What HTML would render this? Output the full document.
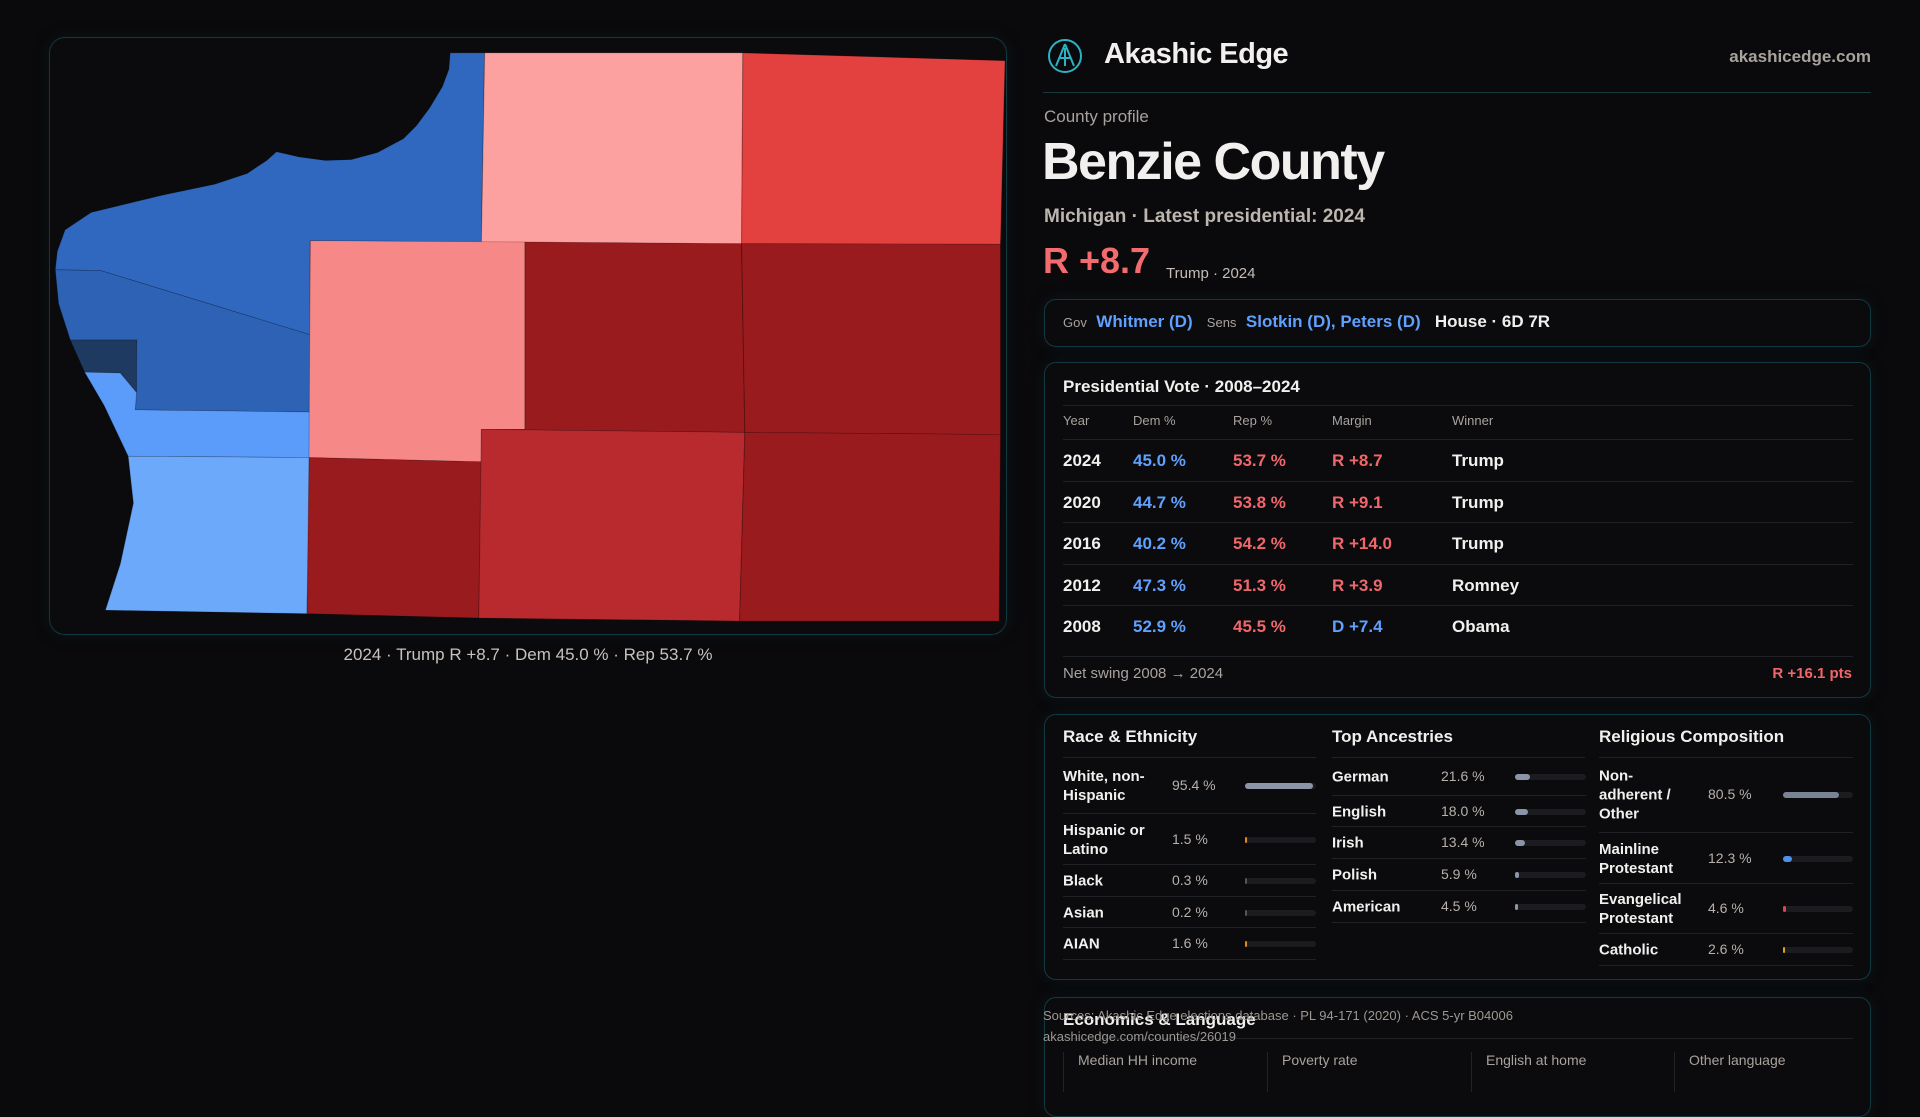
<!DOCTYPE html>
<html><head><meta charset="utf-8"><style>
*{margin:0;padding:0;box-sizing:border-box}
body{width:1920px;height:1080px;background:#0a090b;font-family:"Liberation Sans",sans-serif;color:#f2f0ee;position:relative;overflow:hidden}
.a{position:absolute;white-space:nowrap}
.panel{position:absolute;border:1px solid #113a40;border-radius:16px;background:#0b0a0c;box-shadow:0 0 18px rgba(20,80,90,.18)}
.hl{position:absolute;height:1px;background:#1f2124}
.mut{color:#a9a39e}
.blue{color:#5ea1ff}.red{color:#f0676b}
.lbl{font-size:15px;font-weight:bold;line-height:19px;color:#f2f0ee}
.val{font-size:14px;color:#b7b1ab}
.track{position:absolute;height:6px;border-radius:3px;background:#1b1c1f}
.fill{position:absolute;left:0;top:0;height:6px;border-radius:3px}
</style></head><body>

<div class="panel" style="left:49px;top:37px;width:958px;height:598px"></div>
<svg class="a" style="left:0;top:0" width="1020" height="680" viewBox="0 0 1568 1568" preserveAspectRatio="none">
 <g stroke="#000" stroke-opacity=".25" stroke-width="1.5">
 <polygon fill="#3068bf" points="85,622 88,580 100,530 140,490 250,450 330,425 380,400 410,370 425,350 460,362 500,370 540,368 580,352 620,320 640,290 660,250 680,200 690,160 692,122 745,122 740,558 477,555 477,772 155,624"/>
 <polygon fill="#2d62b5" points="85,622 155,624 477,772 477,950 208,945 210,784 108,784 90,700"/>
 <polygon fill="#1f3a60" points="108,784 210,784 210,905 185,860 130,858"/>
 <polygon fill="#5b9bfa" points="130,858 185,860 210,905 208,945 477,950 477,1055 197,1052 160,935"/>
 <polygon fill="#6ca9fa" points="197,1052 477,1055 472,1415 162,1407 185,1300 205,1160"/>
 <polygon fill="#fca0a0" points="745,122 1142,122 1140,562 740,558"/>
 <polygon fill="#e34040" points="1142,122 1545,140 1538,563 1140,562"/>
 <polygon fill="#f78888" points="477,555 807,558 807,990 740,990 740,1065 475,1055"/>
 <polygon fill="#991b1e" points="807,558 1140,562 1145,997 740,990 807,990"/>
 <polygon fill="#991b1e" points="1140,562 1538,563 1538,1002 1145,997"/>
 <polygon fill="#991b1e" points="475,1055 740,1065 736,1425 472,1415"/>
 <polygon fill="#b82a2e" points="740,990 1145,997 1137,1432 736,1425"/>
 <polygon fill="#991b1e" points="1145,997 1538,1002 1536,1432 1137,1432"/>
 </g>
</svg>
<div class="a mut" style="left:0;width:1056px;text-align:center;top:645px;font-size:17px;color:#c9c2bc">2024 · Trump R +8.7 · Dem 45.0 % · Rep 53.7 %</div>

<svg class="a" style="left:1047px;top:38px" width="36" height="36" viewBox="0 0 36 36"><circle cx="18" cy="18" r="16" fill="none" stroke="#2bb3c4" stroke-width="2"/><path d="M18 6 L9 28 M18 6 L27 28 M12 20 H24 M18 10 V28" stroke="#2bb3c4" stroke-width="2" fill="none"/></svg>
<div class="a" style="left:1104px;top:38px;font-size:29px;font-weight:bold;letter-spacing:-.5px">Akashic Edge</div>
<div class="a mut" style="right:49px;top:47px;font-size:17px;font-weight:bold">akashicedge.com</div>
<div class="hl" style="left:1043px;top:92px;width:828px;background:#163a40"></div>

<div class="a mut" style="left:1044px;top:107px;font-size:17px">County profile</div>
<div class="a" style="left:1042px;top:132px;font-size:52px;font-weight:bold;letter-spacing:-1.5px">Benzie County</div>
<div class="a" style="left:1044px;top:206px;font-size:19px;font-weight:bold;color:#bdb6b0">Michigan · Latest presidential: 2024</div>
<div class="a red" style="left:1043px;top:240px;font-size:36px;font-weight:bold;color:#f36b6e">R +8.7</div>
<div class="a mut" style="left:1166px;top:265px;font-size:15px;color:#c5beb8">Trump · 2024</div>

<div class="panel" style="left:1044px;top:299px;width:827px;height:48px;border-radius:12px"></div>
<div class="a" style="left:1063px;top:312px;font-size:17px;font-weight:bold">
 <span class="mut" style="font-size:13px;font-weight:normal">Gov</span>&nbsp; <span class="blue">Whitmer (D)</span>&nbsp;&nbsp; <span class="mut" style="font-size:13px;font-weight:normal">Sens</span>&nbsp; <span class="blue">Slotkin (D), Peters (D)</span>&nbsp;&nbsp; <span>House · 6D 7R</span></div>

<div class="panel" style="left:1044px;top:362px;width:827px;height:336px;border-radius:12px"></div>
<div class="a" style="left:1063px;top:377px;font-size:17px;font-weight:bold">Presidential Vote · 2008–2024</div>
<div class="hl" style="left:1063px;top:405px;width:790px"></div>
<div class="a mut" style="left:1063px;top:413px;font-size:13px">Year</div>
<div class="a mut" style="left:1133px;top:413px;font-size:13px">Dem %</div>
<div class="a mut" style="left:1233px;top:413px;font-size:13px">Rep %</div>
<div class="a mut" style="left:1332px;top:413px;font-size:13px">Margin</div>
<div class="a mut" style="left:1452px;top:413px;font-size:13px">Winner</div>
<div id="rows"></div>
<div class="hl" style="left:1063px;top:656px;width:790px"></div>
<div class="a mut" style="left:1063px;top:665px;font-size:15px">Net swing 2008 → 2024</div>
<div class="a red" style="right:68px;top:665px;font-size:15px;font-weight:bold">R +16.1 pts</div>

<div class="panel" style="left:1044px;top:714px;width:827px;height:266px;border-radius:12px"></div>
<div class="a" style="left:1063px;top:727px;font-size:17px;font-weight:bold">Race &amp; Ethnicity</div>
<div class="a" style="left:1332px;top:727px;font-size:17px;font-weight:bold">Top Ancestries</div>
<div class="a" style="left:1599px;top:727px;font-size:17px;font-weight:bold">Religious Composition</div>
<div class="hl" style="left:1063px;top:757px;width:253px"></div>
<div class="hl" style="left:1332px;top:757px;width:253px"></div>
<div class="hl" style="left:1599px;top:757px;width:254px"></div>
<div id="demo"></div>

<div class="panel" style="left:1044px;top:997px;width:827px;height:120px;border-radius:12px"></div>
<div class="a" style="left:1063px;top:1010px;font-size:17px;font-weight:bold">Economics &amp; Language</div>
<div class="hl" style="left:1063px;top:1038px;width:790px"></div>
<div class="a mut" style="left:1063px;top:1052px;height:40px;border-left:1px solid #222;padding-left:14px;font-size:14px;width:204px">Median HH income</div>
<div class="a mut" style="left:1267px;top:1052px;height:40px;border-left:1px solid #222;padding-left:14px;font-size:14px;width:204px">Poverty rate</div>
<div class="a mut" style="left:1471px;top:1052px;height:40px;border-left:1px solid #222;padding-left:14px;font-size:14px;width:204px">English at home</div>
<div class="a mut" style="left:1674px;top:1052px;height:40px;border-left:1px solid #222;padding-left:14px;font-size:14px;width:204px">Other language</div>
<div class="a mut" style="left:1043px;top:1005px;font-size:13px;line-height:21px;color:#9e9893">Sources: Akashic Edge elections database · PL 94-171 (2020) · ACS 5-yr B04006<br>akashicedge.com/counties/26019</div>

<script>
const years=["2024","2020","2016","2012","2008"];
const demPct=[45.0,44.7,40.2,47.3,52.9];
const repPct=[53.7,53.8,54.2,51.3,45.5];
const margins=[8.7,9.1,14.0,3.9,-7.4];
const winners=["Trump","Trump","Trump","Romney","Obama"];
const raceLabels=["White, non-Hispanic","Hispanic or Latino","Black","Asian","AIAN"];
const raceValues=[95.4,1.5,0.3,0.2,1.6];
const ancLabels=["German","English","Irish","Polish","American"];
const ancValues=[21.6,18.0,13.4,5.9,4.5];
const relLabels=["Non-adherent / Other","Mainline Protestant","Evangelical Protestant","Catholic"];
const relValues=[80.5,12.3,4.6,2.6];

const rows=document.getElementById('rows');
const rowY=i=>439+i*41.6;
years.forEach((y,i)=>{
 const top=rowY(i);
 const m=margins[i];
 const r=document.createElement('div');
 r.className='a';
 r.style.cssText=`left:1063px;top:${top}px;width:790px;height:41px;border-top:1px solid #1f2124;font-size:17px;font-weight:bold`;
 
 
 const mt=(m>=0?'R +':'D +')+Math.abs(m).toFixed(1);
 r.innerHTML=`<span class="a" style="left:0;top:11px">${y}</span><span class="a blue" style="left:70px;top:11px">${demPct[i].toFixed(1)} %</span><span class="a red" style="left:170px;top:11px">${repPct[i].toFixed(1)} %</span><span class="a ${m>=0?'red':'blue'}" style="left:269px;top:11px">${mt}</span><span class="a" style="left:389px;top:11px">${winners[i]}</span>`;
 rows.appendChild(r);
});

const demo=document.getElementById('demo');
function col(labels,values,x,valX,barX,barW,colors,lines,labelW){
 labels.forEach((l,i)=>{
  const top=lines[i],bottom=lines[i+1];
  const mid=(top+bottom)/2;
  const d=document.createElement('div');
  d.className='a';
  d.style.cssText=`left:${x}px;top:${top}px;width:${barX+barW-x}px;height:${bottom-top}px;border-bottom:1px solid #1f2124`;
  
  
  const lab=document.createElement('div');
  lab.className='a lbl';
  lab.style.cssText=`left:0;width:${labelW}px;white-space:normal;top:${mid-top}px;transform:translateY(-50%)`;
  lab.textContent=l;
  d.appendChild(lab);
  const v=document.createElement('div');
  v.className='a val';
  v.style.cssText=`left:${valX-x}px;top:${mid-top-9}px`;
  v.textContent=values[i].toFixed(1)+' %';
  d.appendChild(v);
  const t=document.createElement('div');
  t.className='track';
  t.style.cssText=`left:${barX-x}px;top:${mid-top-3}px;width:${barW}px`;
  const f=document.createElement('div');
  f.className='fill';
  f.style.width=Math.max(2,values[i]/100*barW)+'px';
  f.style.background=colors[i];
  
  
  t.appendChild(f);d.appendChild(t);
  demo.appendChild(d);
 });
}
col(raceLabels,raceValues,1063,1172,1245,71,["#8b95a8","#e08a1e","#555","#555","#e08a1e"],[757,814,865,897,928,960],95);
col(ancLabels,ancValues,1332,1441,1515,71,["#8b95a8","#8b95a8","#8b95a8","#8b95a8","#8b95a8"],[757,796,827,859,891,923],95);
col(relLabels,relValues,1599,1708,1783,70,["#7a8393","#4f8fe8","#e0474a","#e0a21e"],[757,833,884,934,966],80);
</script>
</body></html>
